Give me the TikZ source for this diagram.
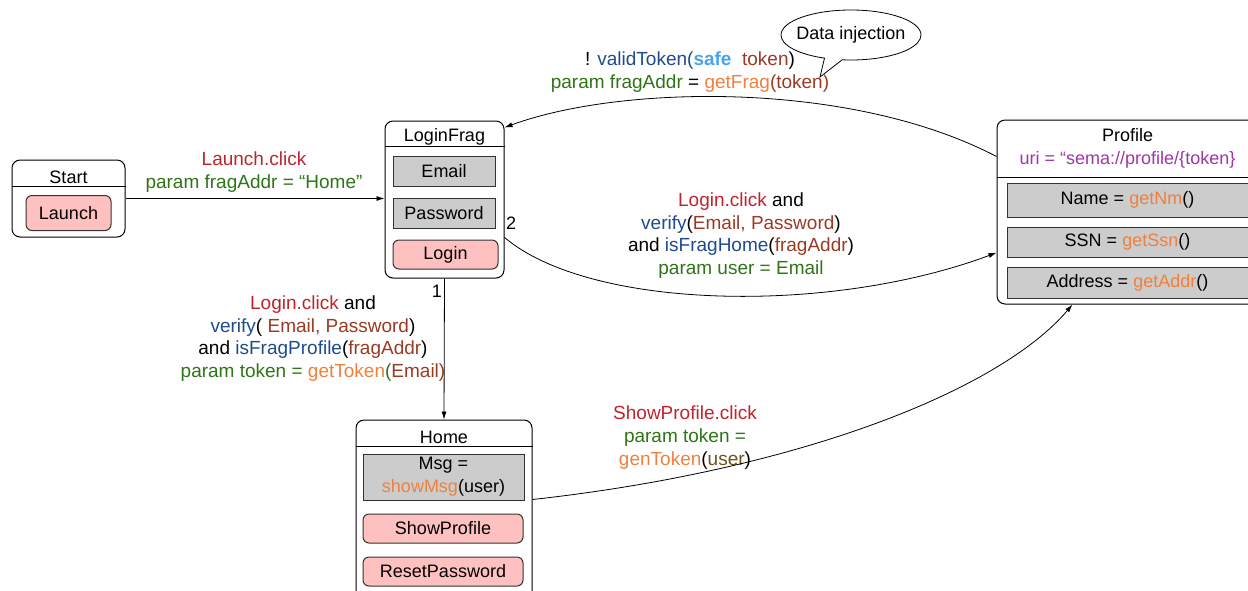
\documentclass[tikz,border=0pt]{standalone}
\usepackage{fontspec}
\setmainfont{Liberation Sans}
\usetikzlibrary{arrows.meta,positioning,shapes.callouts,calc}

\definecolor{clickred}{HTML}{C0232C}
\definecolor{parmgreen}{HTML}{2E7517}
\definecolor{funblue}{HTML}{1F4B8E}
\definecolor{argbrown}{HTML}{9B3A24}
\definecolor{getorange}{HTML}{F0803C}
\definecolor{uripurple}{HTML}{A035A8}
\definecolor{safeblue}{HTML}{4AA3E8}
\definecolor{usrolive}{HTML}{6E5314}
\definecolor{btnpink}{HTML}{FFC0C0}
\definecolor{fieldgray}{HTML}{CCCCCC}

\begin{document}
\begin{tikzpicture}[
  x=1pt, y=-1pt,
  font=\fontsize{18}{22.7}\selectfont,
  frag/.style={rectangle, draw=black, rounded corners=8pt, line width=1pt},
  field/.style={rectangle, draw=black!80, fill=fieldgray, line width=1pt, inner sep=0pt, align=center},
  btn/.style={rectangle, draw=black!80, fill=btnpink, rounded corners=6pt, line width=1pt, inner sep=0pt},
  lbl/.style={align=center, inner sep=0pt, font=\fontsize{19}{22.7}\selectfont},
  arrow/.style={-{Latex[length=8pt,width=5pt]}, line width=0.8pt}
]
\useasboundingbox (0,0) rectangle (1248,590);

% Start
\node[frag, minimum width=113pt, minimum height=77pt] (start) at (68.5,198.5) {};
\node (starttitle) at (start.north |- 0,177) {Start};
\draw[line width=1pt] (start.west |- 0,186) -- (start.east |- 0,186);
\node[btn, minimum width=85pt, minimum height=35pt] (launch) at (68.5,213) {Launch};

% LoginFrag
\node[frag, minimum width=119pt, minimum height=157pt] (loginfrag) at (444.5,199.5) {};
\node (lftitle) at (loginfrag.north |- 0,137) {LoginFrag};
\draw[line width=1pt] (loginfrag.west |- 0,146) -- (loginfrag.east |- 0,146);
\node[field, minimum width=102pt, minimum height=30pt] (email) at (444,171) {Email};
\node[field, minimum width=102pt, minimum height=30pt] (password) at (444,213) {Password};
\node[btn, minimum width=105pt, minimum height=29pt] (login) at (445.5,254.5) {Login};

% Profile
\node[frag, minimum width=261pt, minimum height=184pt] (profile) at (1127.5,212) {};
\node[align=center, inner sep=0pt] (proftitle) at (1127.5,148) {Profile\\\textcolor{uripurple}{uri = “sema://profile/\{token\}}};
\draw[line width=1pt] (profile.west |- 0,177) -- (profile.east |- 0,177);
\node[field, minimum width=241pt, minimum height=34pt] (name) at (1127.5,200) {Name = \textcolor{getorange}{getNm}()};
\node[field, minimum width=241pt, minimum height=30pt] (ssn) at (1127.5,242) {SSN = \textcolor{getorange}{getSsn}()};
\node[field, minimum width=241pt, minimum height=31pt] (addr) at (1127.5,282.5) {Address = \textcolor{getorange}{getAddr}()};

% Home
\node[frag, minimum width=176pt, minimum height=180pt] (home) at (444,510) {};
\node (hometitle) at (home.north |- 0,437) {Home};
\draw[line width=1pt] (home.west |- 0,446) -- (home.east |- 0,446);
\node[field, minimum width=161pt, minimum height=46pt] (msg) at (443.5,477) {Msg =\\\textcolor{getorange}{showMsg}(user)};
\node[btn, minimum width=160pt, minimum height=29pt] (showprofile) at (443,528.5) {ShowProfile};
\node[btn, minimum width=160pt, minimum height=29pt] (resetpw) at (443,571.5) {ResetPassword};

% callout
\node[ellipse callout, draw=black, line width=0.8pt, fill=white, minimum width=140pt, minimum height=50pt,
      inner xsep=-7pt, inner ysep=0pt,
      callout absolute pointer={(820,77)}] (inject) at (851,35) {Data injection};

% labels
\node[lbl] (launchlbl) at (254,172) {\textcolor{clickred}{Launch.click}\\\textcolor{parmgreen}{param fragAddr = “Home”}};
\node[lbl] (tokenlbl) at (690,72) {! \textcolor{funblue}{validToken(}\textcolor{safeblue}{\textbf{safe}}\ \ \textcolor{argbrown}{token})\\
  \textcolor{parmgreen}{param fragAddr} = \textcolor{getorange}{getFrag}\textcolor{argbrown}{(token)}};
\node[lbl] (homelbl) at (741,235.5) {\textcolor{clickred}{Login.click} and\\
  \textcolor{funblue}{verify}(\textcolor{argbrown}{Email, Password})\\
  and \textcolor{funblue}{isFragHome}(\textcolor{argbrown}{fragAddr})\\
  \textcolor{parmgreen}{param user = Email}};
\node[lbl] (proflbl) at (313,338.5) {\textcolor{clickred}{Login.click} and\\
  \textcolor{funblue}{verify}( \textcolor{argbrown}{Email, Password})\\
  and \textcolor{funblue}{isFragProfile}(\textcolor{argbrown}{fragAddr})\\
  \textcolor{parmgreen}{param token =} \textcolor{getorange}{getToken}\textcolor{parmgreen}{(}\textcolor{argbrown}{Email)}};
\node[lbl] (showlbl) at (685,437.5) {\textcolor{clickred}{ShowProfile.click}\\
  \textcolor{parmgreen}{param token =}\\
  \textcolor{getorange}{genToken}(\textcolor{usrolive}{user})};
\node (one) at (437,291) {1};
\node (two) at (511,223) {2};

% connectors
\draw[arrow] (start.east) -- (start.east -| loginfrag.west);
\draw[arrow] ($(profile.north west)!0.2!(profile.south west)$) .. controls (850,80) and (620,85) .. ($(loginfrag.north east)+(0,7)$);
\draw[arrow] ($(loginfrag.north east)!0.74!(loginfrag.south east)$) .. controls (590,310) and (830,315) .. ($(profile.north west)!0.72!(profile.south west)$);
\draw[arrow] (loginfrag.south) -- (home.north);
\draw[arrow] ($(home.north east)+(0,80)$) .. controls (800,470) and (1000,390) .. ($(profile.south west)+(76,0)$);

\end{tikzpicture}
\end{document}
